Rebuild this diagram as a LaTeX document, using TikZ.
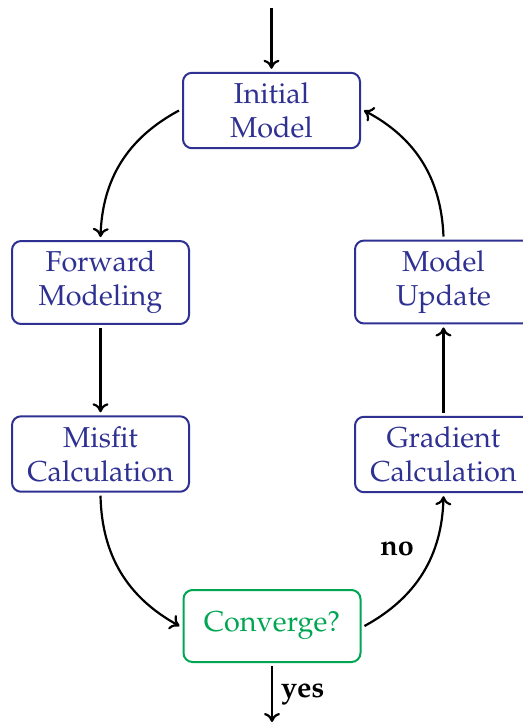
\documentclass[tikz,border=0pt]{standalone}
\usepackage[T1]{fontenc}
\usepackage{mathpazo}
\usetikzlibrary{arrows.meta}
\definecolor{boxblue}{RGB}{46,49,146}
\definecolor{boxgreen}{RGB}{0,166,81}
\begin{document}
\begin{tikzpicture}[x=0.5pt,y=-0.5pt,
  every node/.style={font=\fontsize{14.4}{17}\selectfont},
  stepbox/.style={draw=boxblue, text=boxblue, line width=1pt, rounded corners=4.5pt,
    align=center, minimum width=88.5pt, minimum height=36pt, inner xsep=2pt, inner ysep=5pt, outer sep=2pt},
  decbox/.style={stepbox, draw=boxgreen, text=boxgreen},
  flow/.style={-{To[length=4.5pt,width=8pt]}, line width=1.1pt},
  lab/.style={font=\fontsize{14.4}{17}\selectfont\bfseries, inner sep=4pt}]
\useasboundingbox (0,0) rectangle (523,725);
\node[stepbox] (init) at (271.5,110.5) {Initial\\Model};
\node[stepbox] (fwd) at (100.5,282.5) {Forward\\Modeling};
\node[stepbox] (misfit) at (100.5,454) {Misfit\\Calculation};
\node[decbox] (conv) at (272,626) {Converge?};
\node[stepbox] (grad) at (443.5,454.5) {Gradient\\Calculation};
\node[stepbox] (upd) at (443.5,282) {Model\\Update};
\coordinate (start) at (271.5,8);
\coordinate (stop) at (272,722);
\draw[flow] (start) -- (init.north);
\draw[flow] (init.west) to[bend right=30] (fwd.north);
\draw[flow] (fwd.south) -- (misfit.north);
\draw[flow] (misfit.south) to[bend right=30] (conv.west);
\draw[flow] (conv.east) to[bend right=30] node[lab, pos=0.5, above left, yshift=4pt] {no} (grad.south);
\draw[flow] (grad.north) -- (upd.south);
\draw[flow] (upd.north) to[bend right=30] (init.east);
\draw[flow] (conv.south) -- node[lab, right] {yes} (stop);
\end{tikzpicture}
\end{document}
